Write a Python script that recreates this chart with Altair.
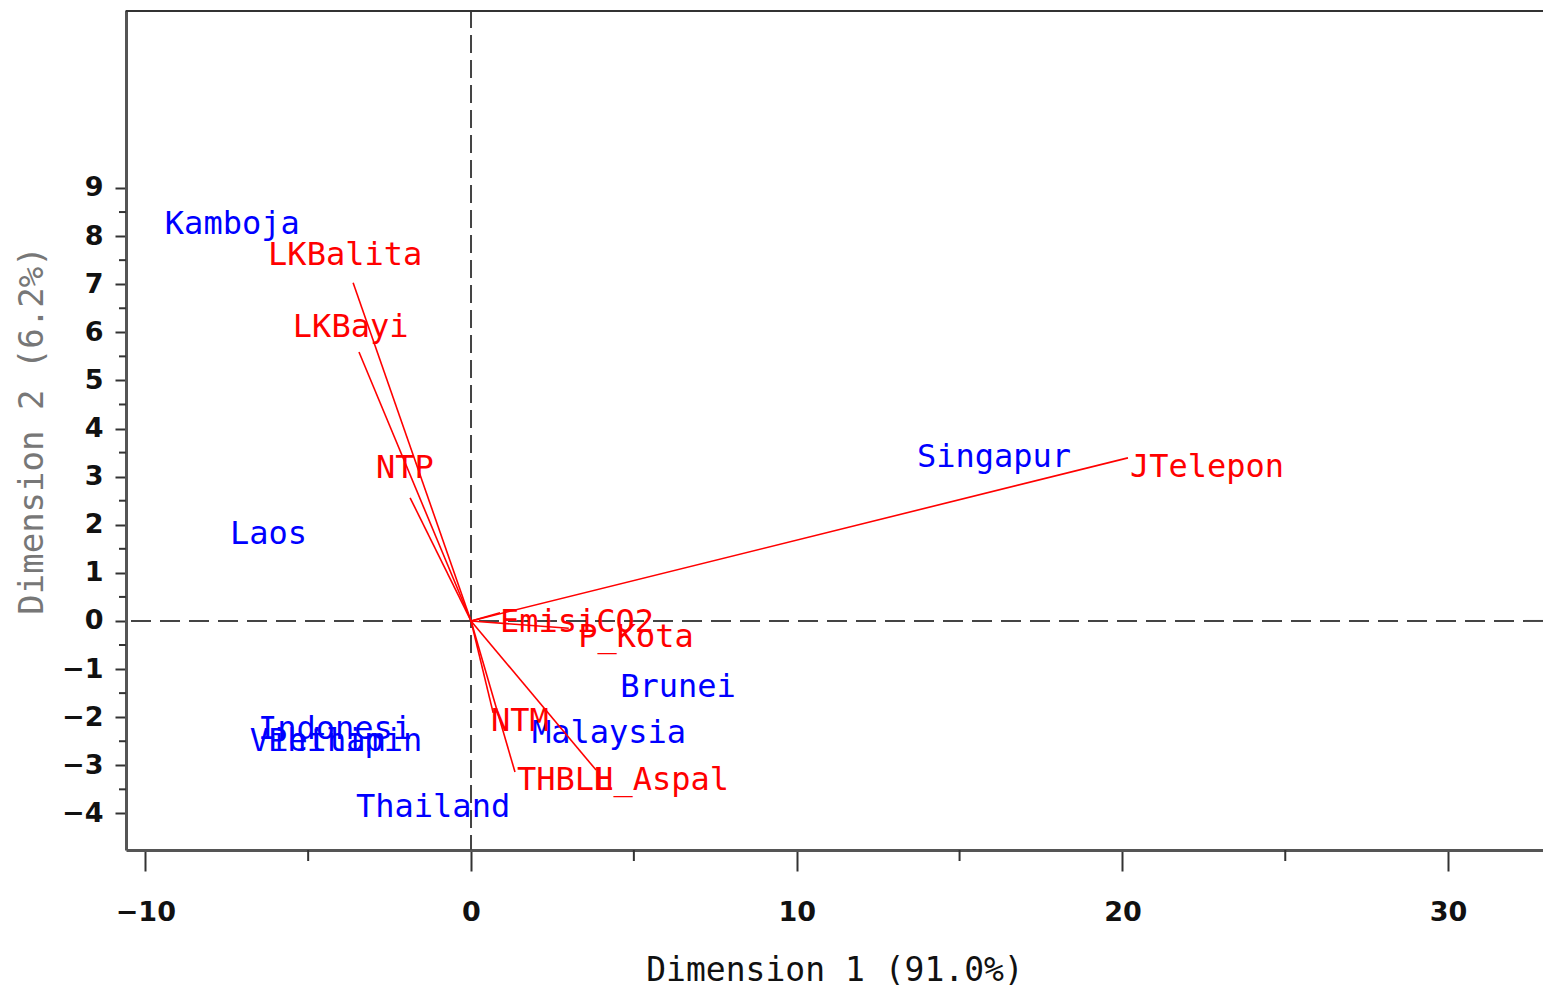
import altair as alt
import pandas as pd

# ---- data ----
countries = ["Kamboja", "Laos", "Singapur", "Brunei", "Malaysia", "Thailand",
             "Indonesi", "Vietnam", "Philipin"]
country_x = [-9.40, -7.40, 13.69, 4.58, 1.87, -3.53, -6.54, -6.79, -6.23]
country_y = [8.25, 1.81, 3.41, -1.37, -2.33, -3.87, -2.25, -2.50, -2.50]

variables = ["LKBalita", "LKBayi", "NTP", "JTelepon", "EmisiCO2", "P_Kota",
             "NTM", "THBLH", "L_Aspal"]
var_x = [-3.62, -3.44, -1.87, 20.17, 0.89, 3.00, 0.68, 1.35, 3.84]
var_y = [7.03, 5.59, 2.56, 3.39, 0.17, -0.15, -1.91, -3.14, -3.10]
var_label_x = [-6.23, -5.47, -2.92, 20.23, 0.89, 3.29, 0.61, 1.41, 3.78]
var_label_y = [7.61, 6.11, 3.18, 3.20, -0.02, -0.33, -2.08, -3.31, -3.31]

x_major = [-10, 0, 10, 20, 30]
x_minor = [-5, 5, 15, 25]
y_major = [-4, -3, -2, -1, 0, 1, 2, 3, 4, 5, 6, 7, 8, 9]
y_minor = [-3.5, -2.5, -1.5, -0.5, 0.5, 1.5, 2.5, 3.5, 4.5, 5.5, 6.5, 7.5, 8.5]

W, H = 1417, 840
x_domain = [-10.593, -10.593 + W / 32.57]
y_domain = [-4.761, 12.70]

MONO = "DejaVu Sans Mono"

country_df = pd.DataFrame({"name": countries, "x": country_x, "y": country_y})
vec_df = pd.DataFrame({"name": variables, "x": var_x, "y": var_y,
                       "x0": [0.0] * len(variables), "y0": [0.0] * len(variables)})
vlab_df = pd.DataFrame({"name": variables, "x": var_label_x, "y": var_label_y})
zero_df = pd.DataFrame({"v": [0.0]})
xmin_df = pd.DataFrame({"v": x_minor})
ymin_df = pd.DataFrame({"v": y_minor})
one_df = pd.DataFrame({"a": [0]})

xs = alt.Scale(domain=x_domain, nice=False, zero=False)
ys = alt.Scale(domain=y_domain, nice=False, zero=False)

x_axis = alt.Axis(values=x_major, format="d", grid=False,
                  tickSize=21, tickWidth=2, tickColor="#333",
                  domainColor="#555", domainWidth=3,
                  labelFont="DejaVu Sans", labelFontWeight="bold", labelFontSize=27,
                  labelColor="#111", labelPadding=28,
                  title="Dimension 1 (91.0%)", titleFont=MONO, titleFontSize=33,
                  titleFontWeight="normal", titleColor="#111", titlePadding=29)
y_axis = alt.Axis(values=y_major, format="d", grid=False,
                  tickSize=11, tickWidth=2, tickColor="#333",
                  domainColor="#555", domainWidth=3,
                  labelFont="DejaVu Sans", labelFontWeight="bold", labelFontSize=27,
                  labelColor="#111", labelPadding=12,
                  title="Dimension 2 (6.2%)", titleFont=MONO, titleFontSize=34,
                  titleFontWeight="normal", titleColor="#777", titlePadding=12)

X = lambda f: alt.X(f, scale=xs, axis=x_axis)
Y = lambda f: alt.Y(f, scale=ys, axis=y_axis)

country_layer = alt.Chart(country_df).mark_text(
    align="left", baseline="middle", font=MONO, fontSize=32, color="#0000ff"
).encode(x=X("x:Q"), y=Y("y:Q"), text="name:N")

vectors = alt.Chart(vec_df).mark_rule(color="#ff0000", strokeWidth=1.6).encode(
    x=X("x0:Q"), y=Y("y0:Q"), x2="x:Q", y2="y:Q"
)

vec_labels = alt.Chart(vlab_df).mark_text(
    align="left", baseline="middle", font=MONO, fontSize=32, color="#ff0000"
).encode(x=X("x:Q"), y=Y("y:Q"), text="name:N")

vzero = alt.Chart(zero_df).mark_rule(color="#444", strokeWidth=2, strokeDash=[18, 7]).encode(
    x=X("v:Q")
)
hzero = alt.Chart(zero_df).mark_rule(color="#444", strokeWidth=2, strokeDash=[20, 9]).encode(
    y=Y("v:Q")
)

x_minor_ticks = alt.Chart(xmin_df).mark_rule(color="#333", strokeWidth=2).encode(
    x=X("v:Q"), y=alt.value(H), y2=alt.value(H + 11)
)
y_minor_ticks = alt.Chart(ymin_df).mark_rule(color="#333", strokeWidth=2).encode(
    y=Y("v:Q"), x=alt.value(-7), x2=alt.value(0)
)

top_border = alt.Chart(one_df).mark_rule(color="#333", strokeWidth=2).encode(
    x=alt.value(0), x2=alt.value(W), y=alt.value(1)
)

chart = alt.layer(
    country_layer, vzero, hzero, vectors, vec_labels,
    x_minor_ticks, y_minor_ticks, top_border
).properties(
    width=W, height=H,
    autosize="none",
    padding={"left": 118, "top": 2, "right": 0, "bottom": 137},
).configure_view(stroke=None).configure(background="white")

chart.save("out.html", embed_options={"renderer": "svg", "actions": False})
